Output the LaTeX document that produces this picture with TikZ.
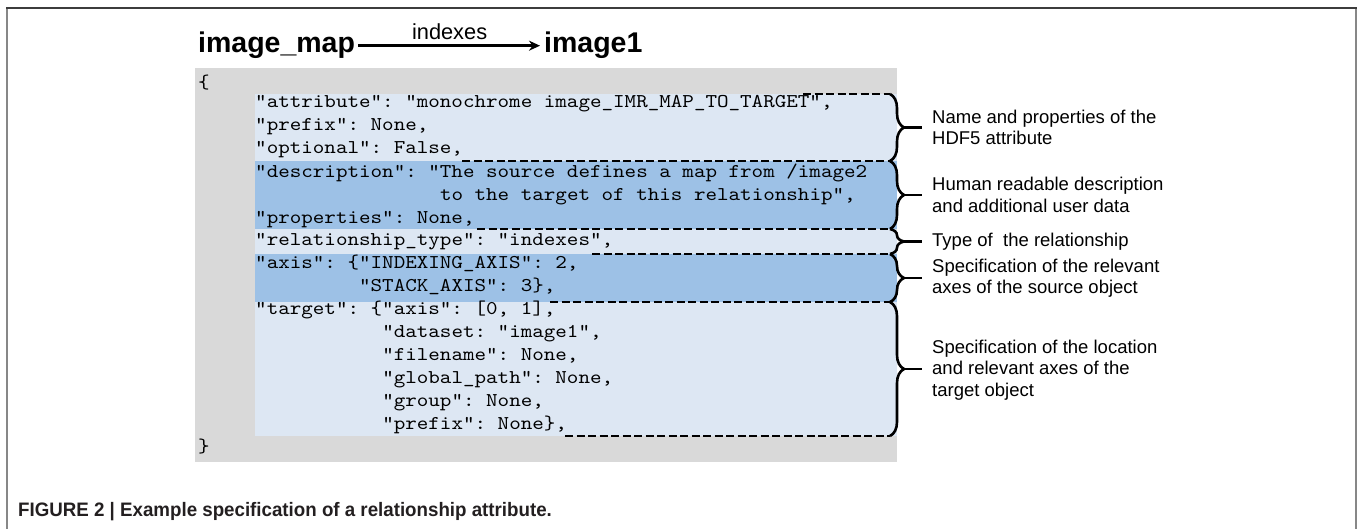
\documentclass[tikz,border=0pt]{standalone}
\usepackage{fontspec}
\setmainfont{Liberation Sans}
\setmonofont{lmmono10-regular.otf}[FakeStretch=1.128]
\newfontfamily\capfont{Liberation Sans}[FakeStretch=0.96]
\usetikzlibrary{arrows.meta,decorations.pathreplacing}
\definecolor{boxgray}{RGB}{217,217,217}
\definecolor{lightblue}{RGB}{221,231,243}
\definecolor{darkblue}{RGB}{157,193,230}
\definecolor{captext}{RGB}{35,31,32}
\definecolor{frametop}{RGB}{60,60,60}
\definecolor{frameside}{RGB}{135,135,135}
\begin{document}
\begin{tikzpicture}[x=1pt,y=-1pt,
  code/.style={anchor=base west, inner sep=0pt, font=\ttfamily\fontsize{19.5}{23}\selectfont},
  note/.style={anchor=west, align=left, inner sep=0pt, font=\fontsize{18.5}{21.5}\selectfont},
  dashln/.style={line width=2.6pt, dash pattern=on 8pt off 3.5pt},
  brc/.style={line width=2.6pt, decorate, decoration={brace, amplitude=14pt}},
  stub/.style={line width=2.6pt},
  titletxt/.style={font=\bfseries\fontsize{28.5}{30}\selectfont, inner sep=0pt, anchor=base west}
]
\useasboundingbox (0,0) rectangle (1358,529);
% frame
\draw[frameside, line width=2pt] (7,529) -- (7,8);
\draw[frameside, line width=2pt] (1356,529) -- (1356,8);
\draw[frametop, line width=2pt] (6,8) -- (1357,8);

% title
\node[titletxt] (map) at (198,53) {image\_map};
\node[titletxt] (img) at (544,53) {image1};
\draw[line width=2.4pt, -{Stealth[length=11pt,width=10pt]}, shorten <=3pt, shorten >=4pt]
  (map.east) -- (img.west) node[midway, above=5pt, inner sep=0pt, font=\fontsize{21.8}{24}\selectfont] (lbl) {indexes};

% boxes
\fill[boxgray] (195,68) rectangle (897,462);
\fill[lightblue] (255,94) rectangle (897,161);
\fill[darkblue] (255,161) rectangle (897,229);
\fill[lightblue] (255,229) rectangle (897,254);
\fill[darkblue] (255,254) rectangle (897,302);
\fill[lightblue] (255,302) rectangle (897,436);

% code text
\node[code] (ob) at (198,88.5) {\{};
\node[code] (l1) at (255,107.5) {"attribute": “monochrome image\_IMR\_MAP\_TO\_TARGET”,};
\node[code] (l2) at (255,130.5) {"prefix": None,};
\node[code] (l3) at (255,153.5) {"optional": False,};
\node[code] (l4) at (255,177.5) {"description": "The source defines a map from /image2};
\node[code] (l5) at (439.8,200.5) {to the target of this relationship",};
\node[code] (l6) at (255,223.5) {"properties": None,};
\node[code] (l7) at (255,245.5) {"relationship\_type": "indexes”,};
\node[code] (l8) at (255,268.5) {"axis": \{"INDEXING\_AXIS": 2,};
\node[code] (l9) at (358.95,291.5) {"STACK\_AXIS": 3\},};
\node[code] (l10) at (255,314.5) {"target": \{"axis": [0, 1],};
\node[code] (l11) at (382.05,337.5) {"dataset: "image1”,};
\node[code] (l12) at (382.05,360.5) {"filename": None,};
\node[code] (l13) at (382.05,383.5) {"global\_path": None,};
\node[code] (l14) at (382.05,406.5) {"group": None,};
\node[code] (l15) at (382.05,429.5) {"prefix": None\},};
\node[code] (cb) at (198,452.5) {\}};

% brace coordinates
\coordinate (d1) at (803,94);  \coordinate (e1) at (890,94);
\coordinate (d2) at (462,161); \coordinate (e2) at (890,161);
\coordinate (d3) at (477,229); \coordinate (e3) at (890,229);
\coordinate (d4) at (592,254); \coordinate (e4) at (890,254);
\coordinate (d5) at (550,302); \coordinate (e5) at (890,302);
\coordinate (d6) at (565,436); \coordinate (e6) at (890,436);

\draw[dashln] (d1) -- (e1);
\draw[dashln] (d2) -- (e2);
\draw[dashln] (d3) -- (e3);
\draw[dashln] (d4) -- (e4);
\draw[dashln] (d5) -- (e5);
\draw[dashln] (d6) -- (e6);

\draw[brc] (e1) -- (e2);
\draw[brc] (e2) -- (e3);
\draw[brc] (e3) -- (e4);
\draw[brc] (e4) -- (e5);
\draw[brc] (e5) -- (e6);

% notes
\node[note] (n1) at (932,127.5) {Name and properties of the\\HDF5 attribute};
\node[note] (n2) at (932,195) {Human readable description\\and additional user data};
\node[note] (n3) at (932,241.5) {Type of\ \ the relationship};
\node[note] (n4) at (932,278) {Specification of the relevant\\axes of the source object};
\node[note] (n5) at (932,370) {Specification of the location\\and relevant axes of the\\target object};

\coordinate (t1) at (904,127.5);
\coordinate (t2) at (904,195);
\coordinate (t3) at (904,241.5);
\coordinate (t4) at (904,278);
\coordinate (t5) at (904,369);
\draw[stub] (t1) -- ([xshift=-10pt]n1.west |- t1);
\draw[stub] (t2) -- ([xshift=-10pt]n2.west |- t2);
\draw[stub] (t3) -- ([xshift=-10pt]n3.west |- t3);
\draw[stub] (t4) -- ([xshift=-10pt]n4.west |- t4);
\draw[stub] (t5) -- ([xshift=-10pt]n5.west |- t5);

% caption
\node[anchor=west, inner sep=0pt, text=captext, font=\capfont\bfseries\fontsize{19.5}{22}\selectfont] (cap) at (18,512)
  {FIGURE 2 | Example specification of a relationship attribute.};
\end{tikzpicture}
\end{document}
